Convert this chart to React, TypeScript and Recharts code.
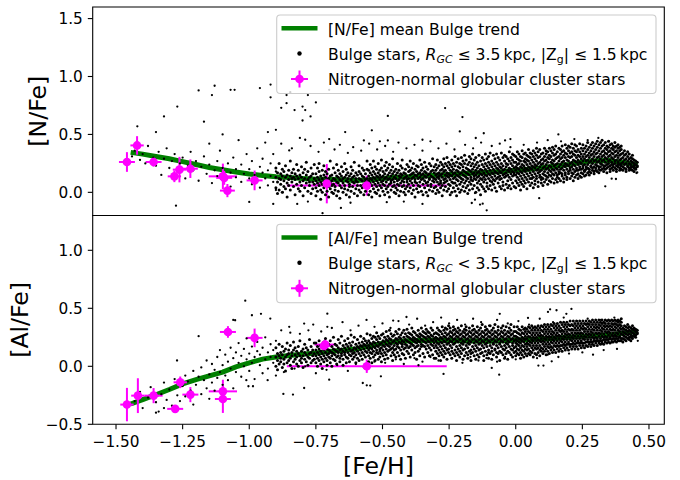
import React from 'react';
import { ComposedChart, Scatter, Line, XAxis, YAxis, ErrorBar, ReferenceArea } from 'recharts';

const FONT = '"DejaVu Sans", sans-serif';
const MAGENTA = '#ff00ff';
const GREEN = '#008000';

// ---------- axes ----------
const X_DOMAIN: [number, number] = [-1.5875, 0.5575];
const xTicks = [-1.5, -1.25, -1.0, -0.75, -0.5, -0.25, 0.0, 0.25, 0.5];
const nFeDomain: [number, number] = [-0.2, 1.6];
const nFeTicks = [0.0, 0.5, 1.0, 1.5];
const alFeDomain: [number, number] = [-0.5, 1.3];
const alFeTicks = [-0.5, 0.0, 0.5, 1.0];

// ---------- mean bulge trends [Fe/H, value] ----------
const nFeTrend: [number, number][] = [
  [-1.445, 0.345], [-1.4, 0.33], [-1.35, 0.31], [-1.3, 0.29], [-1.25, 0.265], [-1.2, 0.24], [-1.15, 0.215],
  [-1.1, 0.195], [-1.05, 0.175], [-1.0, 0.158], [-0.95, 0.145], [-0.9, 0.135], [-0.85, 0.128], [-0.8, 0.12],
  [-0.75, 0.113], [-0.7, 0.112], [-0.65, 0.108], [-0.6, 0.102], [-0.55, 0.108], [-0.5, 0.12], [-0.45, 0.13],
  [-0.4, 0.135], [-0.35, 0.14], [-0.3, 0.147], [-0.25, 0.153], [-0.2, 0.16], [-0.15, 0.167], [-0.1, 0.173],
  [-0.05, 0.18], [0.0, 0.19], [0.05, 0.2], [0.1, 0.212], [0.15, 0.228], [0.2, 0.24], [0.25, 0.262],
  [0.3, 0.273], [0.35, 0.275], [0.4, 0.258], [0.458, 0.24],
];
const alFeTrend: [number, number][] = [
  [-1.445, -0.325], [-1.4, -0.287], [-1.35, -0.245], [-1.3, -0.2], [-1.25, -0.152], [-1.2, -0.115], [-1.15, -0.082],
  [-1.1, -0.05], [-1.05, -0.005], [-1.0, 0.03], [-0.95, 0.062], [-0.9, 0.08], [-0.85, 0.093], [-0.8, 0.104],
  [-0.75, 0.114], [-0.7, 0.128], [-0.65, 0.138], [-0.6, 0.15], [-0.55, 0.172], [-0.5, 0.2], [-0.45, 0.214],
  [-0.4, 0.22], [-0.35, 0.223], [-0.3, 0.224], [-0.25, 0.222], [-0.2, 0.22], [-0.15, 0.218], [-0.1, 0.216],
  [-0.05, 0.22], [0.0, 0.226], [0.05, 0.231], [0.1, 0.236], [0.15, 0.241], [0.2, 0.25], [0.25, 0.258],
  [0.3, 0.265], [0.35, 0.27], [0.4, 0.285], [0.458, 0.302],
];

// ---------- globular cluster stars [Fe/H, value, xErr, yErr] ----------
const gcNFe: [number, number, number, number][] = [
  [-1.459, 0.262, 0.03, 0.085], [-1.421, 0.405, 0.025, 0.08], [-1.359, 0.262, 0.03, 0.04],
  [-1.281, 0.138, 0.025, 0.05], [-1.262, 0.196, 0.025, 0.11], [-1.221, 0.204, 0.028, 0.08],
  [-1.099, 0.138, 0.053, 0.11], [-1.094, 0.125, 0.03, 0.06], [-1.082, 0.015, 0.028, 0.057],
  [-0.98, 0.103, 0.03, 0.085], [-0.709, 0.075, 0.04, 0.17], [-0.559, 0.058, 0.3, 0.086],
];
const gcAlFe: [number, number, number, number][] = [
  [-1.459, -0.33, 0.025, 0.144], [-1.418, -0.253, 0.025, 0.15], [-1.359, -0.253, 0.034, 0.065],
  [-1.278, -0.367, 0.03, 0.025], [-1.259, -0.138, 0.025, 0.05], [-1.221, -0.244, 0.03, 0.065],
  [-1.099, -0.216, 0.053, 0.1], [-1.099, -0.282, 0.03, 0.12], [-1.08, 0.296, 0.03, 0.05],
  [-0.98, 0.245, 0.03, 0.08], [-0.715, 0.187, 0.04, 0.05], [-0.72, 0.175, 0.03, 0.04],
  [-0.559, 0.0, 0.3, 0.057],
];

// ---------- bulge stars, [N/Fe] panel: sparse stars [Fe/H, [N/Fe]] ----------
const nFeStarsPoor: [number, number][] = [
  [-1.44, 0.31], [-1.43, 0.36], [-1.41, 0.28], [-1.4, 0.33], [-1.39, 0.25], [-1.38, 0.4], [-1.36, 0.3], [-1.35, 0.23],
  [-1.34, 0.35], [-1.33, 0.15], [-1.32, 0.29], [-1.31, 0.38], [-1.3, 0.21], [-1.29, 0.27], [-1.28, 0.33], [-1.27, 0.18],
  [-1.26, 0.25], [-1.25, 0.3], [-1.24, 0.12], [-1.23, 0.23], [-1.22, 0.35], [-1.21, 0.19], [-1.2, 0.27], [-1.19, 0.1],
  [-1.18, 0.22], [-1.17, 0.31], [-1.16, 0.16], [-1.15, 0.24], [-1.15, 0.42], [-1.14, 0.08], [-1.13, 0.19], [-1.12, 0.27],
  [-1.12, 0.14], [-1.11, 0.36], [-1.1, 0.21], [-1.09, 0.11], [-1.08, 0.25], [-1.07, 0.17], [-1.07, 0.05], [-1.06, 0.3],
  [-1.05, 0.13], [-1.05, 0.2], [-1.04, 0.45], [-1.03, 0.09], [-1.03, 0.24], [-1.02, 0.16], [-1.01, 0.33], [-1.0, 0.12],
  [-1.0, 0.2], [-0.99, 0.07], [-0.99, 0.27], [-0.98, 0.15], [-0.97, 0.38], [-0.97, 0.1], [-0.96, 0.22], [-0.96, 0.04],
  [-0.95, 0.17], [-0.95, 0.29], [-0.94, 0.12], [-0.94, 0.43], [-0.93, 0.19], [-0.93, 0.06], [-0.92, 0.25], [-0.92, 0.14],
  [-0.91, 0.33], [-0.91, 0.09], [-0.9, 0.18], [-0.9, 0.02],
];
const nFeStarsOutliers: [number, number][] = [
  [-1.42, 0.57], [-1.35, 0.52], [-1.32, 0.655], [-1.27, 0.74], [-1.19, 0.88], [-1.17, 0.61], [-1.14, 0.84], [-1.13, 0.92],
  [-1.1, 0.5], [-1.07, 0.885], [-1.055, 0.885], [-0.96, 0.9], [-0.92, 0.93], [-0.92, 0.82], [-0.93, 0.52], [-0.9, 0.54],
  [-0.88, 0.73], [-0.86, 0.77], [-0.86, 0.84], [-0.846, 0.865], [-0.83, 0.71], [-0.8, 0.74], [-0.79, 0.71], [-0.78, 0.84],
  [-0.8, 0.62], [-0.77, 0.655], [-0.75, 0.776], [-0.7, 0.885], [-0.79, 0.454], [-0.85, 0.362], [-0.7, 0.46], [-0.64, 0.52],
  [-0.54, 0.535], [-0.48, 0.66], [-0.265, 0.727], [-0.2, 0.65], [-0.35, 0.454], [-0.21, 0.526], [-0.57, 0.448],
  [-0.51, 0.44], [-0.48, 0.448], [-0.15, 0.469], [-0.12, 0.51], [0.16, 0.5], [-0.04, 0.448], [-0.02, 0.46],
  [-1.275, -0.115], [-1.0, -0.083], [-0.725, -0.18], [-0.82, -0.1], [-0.78, -0.08], [-0.656, -0.135], [-0.62, -0.09],
  [-0.484, -0.085], [-0.42, -0.08], [-0.35, -0.1], [-0.874, 0.0], [-0.91, -0.1], [0.088, -0.05], [-0.109, -0.155],
  [-0.153, -0.063], [-0.134, -0.106], [-0.124, -0.098], [-0.153, -0.006], [-0.165, -0.092], [0.336, 0.052],
  [0.36, 0.118], [0.376, 0.115], [0.453, 0.167], [0.456, 0.172],
  [-0.88, 0.42], [-0.84, 0.38], [-0.81, 0.47], [-0.77, 0.4], [-0.74, 0.35], [-0.72, 0.43], [-0.68, 0.37], [-0.66, 0.41],
  [-0.63, 0.34], [-0.61, 0.39], [-0.58, 0.36], [-0.55, 0.42], [-0.52, 0.37], [-0.49, 0.4], [-0.46, 0.35], [-0.44, 0.43],
  [-0.41, 0.38], [-0.38, 0.41], [-0.35, 0.36], [-0.32, 0.44], [-0.29, 0.38], [-0.26, 0.42], [-0.23, 0.37], [-0.19, 0.41],
  [-0.16, 0.38], [-0.13, 0.43], [-0.09, 0.4], [-0.06, 0.42], [-0.02, 0.39], [0.03, 0.41], [0.08, 0.43], [0.12, 0.45],
  [0.17, 0.44], [0.22, 0.46], [0.27, 0.45], [0.31, 0.47], [0.35, 0.44],
];
// dense band: [Fe/H, [N/Fe] values in hundredths of dex]
const nFeBand: [number, number[]][] = [
  [-0.9, [4, 13, 21]], [-0.894, [9, 17, -1]], [-0.888, [12, 2, 25]], [-0.882, [7, 16, 11]], [-0.876, [14, 0, 20]],
  [-0.87, [10, 5, 18]], [-0.864, [13, 23, 3]], [-0.858, [8, 15, -4]], [-0.852, [11, 19, 6]], [-0.846, [2, 14, 27]],
  [-0.84, [9, 12, 17]], [-0.834, [5, 20, 13]], [-0.828, [11, -2, 16]], [-0.822, [7, 14, 24]], [-0.816, [12, 3, 19]],
  [-0.81, [9, 15, 1]], [-0.804, [6, 13, 22]], [-0.798, [10, 17, -3]], [-0.792, [4, 12, 20]], [-0.786, [8, 15, 26]],
  [-0.78, [11, 1, 18]], [-0.774, [6, 13, 9]], [-0.768, [14, -1, 21]], [-0.762, [9, 3, 16]], [-0.756, [12, 7, 24]],
  [-0.75, [4, 10, 16, -3]], [-0.744, [8, 13, 1, 21]], [-0.738, [11, 6, 18, 25]], [-0.732, [2, 9, 14, -6]],
  [-0.726, [7, 12, 19, 0]], [-0.72, [10, 4, 15, 23]], [-0.714, [6, 13, -2, 18]], [-0.708, [9, 1, 16, 11]],
  [-0.702, [12, 5, 20, -4]], [-0.696, [3, 8, 14, 27]], [-0.69, [10, 15, 0, 6]], [-0.684, [7, 12, 21, -1]],
  [-0.678, [5, 11, 17, 2]], [-0.672, [9, 14, -3, 24]], [-0.666, [1, 8, 13, 19]], [-0.66, [11, 6, 16, -5]],
  [-0.654, [4, 10, 22, 14]], [-0.648, [8, 0, 12, 18]], [-0.642, [6, 13, 3, 25]], [-0.636, [10, 15, -2, 20]],
  [-0.63, [2, 9, 12, 17]], [-0.624, [7, 14, 5, -4]], [-0.618, [11, 1, 16, 22]], [-0.612, [5, 9, 13, 19]],
  [-0.606, [8, -1, 14, 26]], [-0.6, [3, 10, 17, 12]], [-0.594, [9, 6, 15, -3]], [-0.588, [12, 2, 18, 23]],
  [-0.582, [6, 11, 0, 16]], [-0.576, [10, 4, 14, 21]], [-0.57, [7, 13, -2, 19]], [-0.564, [11, 1, 16, 9]],
  [-0.558, [5, 12, 20, 27]],
  [-0.552, [4, 10, 14, 19, -2]], [-0.546, [8, 12, 1, 17, 24]], [-0.54, [6, 11, 15, -4, 21]], [-0.534, [9, 3, 13, 18, 27]],
  [-0.528, [12, 7, 0, 16, 22]], [-0.522, [5, 10, 14, 20, -1]], [-0.516, [8, 13, 2, 17, 25]], [-0.51, [11, 6, 15, -3, 19]],
  [-0.504, [4, 9, 13, 21, 28]], [-0.498, [10, 14, 1, 18, 7]], [-0.492, [6, 12, 16, -2, 23]], [-0.486, [9, 3, 13, 19, 26]],
  [-0.48, [11, 5, 15, 0, 21]], [-0.474, [7, 12, 17, 24, -4]], [-0.468, [10, 2, 14, 19, 8]], [-0.462, [5, 11, 16, 22, 29]],
  [-0.456, [9, 13, 0, 18, 6]], [-0.45, [12, 4, 15, 20, -1]], [-0.444, [7, 10, 17, 25, 2]], [-0.438, [11, 14, 6, 19, -3]],
  [-0.432, [8, 13, 1, 16, 23]], [-0.426, [10, 5, 15, 21, 28]], [-0.42, [6, 12, 17, 0, 9]], [-0.414, [13, 3, 16, 20, -2]],
  [-0.408, [9, 11, 14, 24, 5]], [-0.402, [7, 12, 18, 1, 22]], [-0.396, [10, 15, 4, 19, 27]], [-0.39, [12, 8, 16, -1, 21]],
  [-0.384, [6, 13, 17, 2, 25]], [-0.378, [11, 9, 15, 20, -4]], [-0.372, [8, 14, 3, 18, 23]], [-0.366, [12, 6, 16, 22, 0]],
  [-0.36, [9, 13, 17, 5, 28]], [-0.354, [11, 15, 1, 19, 24]], [-0.348, [7, 12, 16, -2, 21]], [-0.342, [10, 14, 4, 18, 26]],
  [-0.336, [13, 8, 17, 0, 22]], [-0.33, [9, 15, 6, 20, -3]], [-0.324, [12, 11, 16, 2, 25]], [-0.318, [7, 14, 18, 23, 5]],
  [-0.312, [10, 13, 1, 19, 29]], [-0.306, [12, 9, 17, 4, 22]],
  [-0.3, [5, 11, 15, 19, 24, -1]], [-0.294, [9, 13, 16, 21, 2, 28]], [-0.288, [7, 12, 17, 0, 23, 14]],
  [-0.282, [10, 15, 4, 19, 26, 8]], [-0.276, [13, 6, 16, 20, -3, 24]], [-0.27, [8, 11, 18, 2, 22, 29]],
  [-0.264, [12, 15, 5, 19, 25, 9]], [-0.258, [10, 14, 1, 17, 23, 30]], [-0.252, [7, 13, 16, 21, 3, 26]],
  [-0.246, [11, 15, 6, 19, -2, 24]], [-0.24, [9, 14, 18, 0, 22, 28]], [-0.234, [12, 16, 4, 20, 25, 8]],
  [-0.228, [8, 13, 17, 1, 23, 31]], [-0.222, [11, 15, 6, 19, 26, -3]], [-0.216, [10, 14, 18, 3, 22, 29]],
  [-0.21, [13, 16, 7, 21, 25, 0]], [-0.204, [9, 12, 17, 2, 24, 30]], [-0.198, [11, 15, 19, 5, 22, 27]],
  [-0.192, [14, 8, 18, 1, 25, 32]], [-0.186, [10, 13, 17, 21, 4, 28]], [-0.18, [12, 16, 6, 20, 24, -1]],
  [-0.174, [9, 15, 19, 2, 26, 31]], [-0.168, [13, 11, 18, 7, 23, 29]], [-0.162, [10, 16, 20, 3, 25, 33]],
  [-0.156, [14, 12, 17, 6, 22, 28]], [-0.15, [11, 15, 19, 0, 24, 30]], [-0.144, [13, 17, 8, 21, 26, 4]],
  [-0.138, [10, 14, 18, 2, 23, 32]], [-0.132, [12, 16, 20, 7, 27, -2]], [-0.126, [15, 11, 19, 5, 24, 30]],
  [-0.12, [13, 17, 9, 22, 28, 3]], [-0.114, [11, 15, 20, 1, 25, 33]], [-0.108, [14, 18, 8, 23, 29, 5]],
  [-0.102, [12, 16, 21, 3, 26, 31]], [-0.096, [15, 10, 19, 6, 24, 34]], [-0.09, [13, 17, 22, 2, 27, 9]],
  [-0.084, [11, 16, 20, 7, 25, 32]], [-0.078, [14, 18, 4, 23, 29, 10]], [-0.072, [12, 17, 21, 1, 26, 33]],
  [-0.066, [16, 13, 20, 8, 24, 30]], [-0.06, [14, 18, 22, 5, 28, 11]], [-0.054, [12, 17, 21, 3, 25, 34]],
  [-0.048, [15, 19, 9, 23, 30, 6]], [-0.042, [13, 16, 20, 2, 27, 32]], [-0.036, [17, 14, 22, 7, 25, 31]],
  [-0.03, [15, 19, 10, 24, 29, 4]], [-0.024, [13, 18, 21, 6, 27, 35]], [-0.018, [16, 20, 11, 25, 30, 3]],
  [-0.012, [14, 18, 23, 8, 28, 33]], [-0.006, [17, 15, 21, 5, 26, 32]],
  [0.0, [10, 15, 19, 22, 26, 31, 4]], [0.006, [13, 17, 21, 24, 8, 29, 35]], [0.012, [11, 16, 20, 25, 28, 6, 33]],
  [0.018, [14, 18, 22, 9, 27, 31, 2]], [0.024, [12, 17, 21, 24, 30, 7, 36]], [0.03, [15, 19, 23, 10, 27, 33, 5]],
  [0.036, [13, 18, 21, 26, 29, 8, 34]], [0.042, [16, 20, 24, 11, 28, 32, 3]], [0.048, [14, 19, 22, 27, 9, 31, 37]],
  [0.054, [12, 17, 21, 25, 30, 6, 34]], [0.06, [15, 20, 23, 12, 28, 33, 8]], [0.066, [13, 18, 22, 26, 31, 4, 36]],
  [0.072, [16, 21, 24, 10, 29, 34, 7]], [0.078, [14, 19, 23, 27, 12, 32, 38]], [0.084, [17, 20, 25, 9, 30, 35, 5]],
  [0.09, [15, 18, 22, 26, 13, 31, 37]], [0.096, [13, 19, 24, 28, 8, 33, 11]], [0.102, [16, 21, 25, 12, 29, 34, 6]],
  [0.108, [18, 22, 15, 27, 31, 9, 38]], [0.114, [14, 20, 24, 28, 11, 33, 36]], [0.12, [17, 21, 26, 13, 30, 35, 7]],
  [0.126, [15, 19, 23, 29, 10, 32, 38]], [0.132, [18, 22, 26, 14, 31, 36, 9]], [0.138, [16, 20, 25, 28, 12, 34, 39]],
  [0.144, [19, 23, 27, 15, 32, 37, 8]], [0.15, [17, 21, 24, 29, 11, 33, 40]], [0.156, [15, 20, 25, 30, 13, 35, 9]],
  [0.162, [18, 22, 27, 16, 31, 38, 12]], [0.168, [20, 24, 17, 29, 33, 10, 37]], [0.174, [16, 21, 26, 30, 14, 35, 40]],
  [0.18, [19, 23, 27, 12, 32, 36, 9]], [0.186, [17, 22, 25, 30, 15, 34, 41]], [0.192, [20, 24, 28, 13, 33, 38, 11]],
  [0.198, [18, 23, 27, 31, 16, 36, 40]], [0.204, [21, 25, 19, 30, 34, 12, 39]], [0.21, [17, 22, 26, 31, 14, 35, 42]],
  [0.216, [20, 24, 28, 16, 33, 38, 10]], [0.222, [18, 23, 27, 32, 13, 36, 41]], [0.228, [21, 26, 19, 30, 35, 15, 40]],
  [0.234, [19, 24, 28, 32, 16, 37, 12]], [0.24, [22, 26, 20, 31, 35, 14, 42]], [0.246, [20, 25, 29, 17, 33, 38, 13]],
  [0.252, [23, 27, 21, 31, 36, 16, 41]], [0.258, [19, 24, 29, 33, 18, 38, 14]], [0.264, [22, 27, 31, 20, 35, 40, 15]],
  [0.27, [24, 28, 21, 32, 37, 17, 43]], [0.276, [20, 26, 30, 34, 18, 39, 15]], [0.282, [23, 27, 32, 22, 36, 41, 17]],
  [0.288, [25, 29, 21, 33, 38, 19, 43]], [0.294, [22, 27, 31, 35, 18, 40, 16]], [0.3, [24, 28, 33, 21, 37, 42, 19]],
  [0.306, [26, 30, 23, 34, 39, 18, 44]], [0.312, [22, 27, 31, 36, 20, 41, 17]], [0.318, [25, 29, 33, 22, 38, 43, 19]],
  [0.324, [27, 31, 24, 35, 40, 20, 45]], [0.33, [23, 28, 32, 36, 21, 41, 18]], [0.336, [26, 30, 34, 23, 38, 43, 20]],
  [0.342, [24, 29, 33, 37, 21, 40, 17]], [0.348, [27, 31, 25, 35, 39, 22, 44]], [0.354, [23, 28, 32, 36, 20, 41, 18]],
  [0.36, [26, 30, 34, 24, 38, 42, 21]], [0.366, [24, 29, 33, 22, 37, 40, 19]], [0.372, [27, 31, 25, 35, 39, 21, 43]],
  [0.378, [23, 28, 32, 36, 20, 40, 18]], [0.384, [26, 30, 24, 34, 38, 22, 41]], [0.39, [24, 28, 32, 21, 36, 39, 19]],
  [0.396, [25, 29, 23, 33, 37, 20, 40]],
  [0.402, [22, 26, 30, 34, 19]], [0.408, [24, 28, 21, 32, 36]], [0.414, [20, 25, 29, 33, 18]], [0.42, [23, 27, 22, 31, 35]],
  [0.426, [21, 25, 29, 19, 33]], [0.432, [24, 27, 22, 30, 20]], [0.438, [22, 26, 29, 19, 32]], [0.444, [23, 25, 21, 28, 18]],
  [0.45, [21, 24, 27, 20]], [0.456, [23, 26, 22]],
];

// ---------- bulge stars, [Al/Fe] panel ----------
const alFeStarsPoor: [number, number][] = [
  [-1.43, -0.3], [-1.41, -0.22], [-1.4, -0.36], [-1.38, -0.27], [-1.37, -0.18], [-1.35, -0.31], [-1.34, -0.39],
  [-1.33, -0.24], [-1.32, -0.14], [-1.31, -0.29], [-1.3, -0.2], [-1.29, -0.34], [-1.28, -0.11], [-1.27, -0.25],
  [-1.26, -0.3], [-1.25, -0.17], [-1.24, -0.08], [-1.24, -0.26], [-1.23, -0.13], [-1.22, -0.21], [-1.21, -0.04],
  [-1.21, -0.33], [-1.2, -0.16], [-1.19, -0.09], [-1.19, 0.26], [-1.18, -0.24], [-1.18, -0.01], [-1.17, -0.12],
  [-1.16, -0.19], [-1.16, 0.05], [-1.15, -0.07], [-1.15, -0.28], [-1.14, -0.14], [-1.14, 0.02], [-1.13, -0.03],
  [-1.13, -0.21], [-1.12, 0.08], [-1.12, -0.1], [-1.11, -0.05], [-1.11, 0.14], [-1.1, -0.16], [-1.1, 0.01],
  [-1.09, -0.08], [-1.09, 0.1], [-1.08, 0.04], [-1.08, -0.12], [-1.07, 0.16], [-1.07, -0.02], [-1.06, 0.07],
  [-1.06, -0.19], [-1.05, 0.12], [-1.05, -0.05], [-1.04, 0.03], [-1.04, 0.2], [-1.03, 0.09], [-1.03, -0.09],
  [-1.02, 0.15], [-1.02, 0.0], [-1.01, 0.06], [-1.01, 0.24], [-1.0, 0.11], [-1.0, -0.04], [-0.99, 0.17], [-0.99, 0.03],
  [-0.98, 0.08], [-0.98, -0.11], [-0.97, 0.13], [-0.97, 0.21], [-0.96, 0.01], [-0.96, 0.1], [-0.95, 0.16],
  [-0.95, -0.06], [-0.94, 0.06], [-0.94, 0.25], [-0.93, 0.12], [-0.93, -0.02], [-0.92, 0.19], [-0.92, 0.08],
  [-0.91, 0.03], [-0.91, 0.14], [-0.9, 0.22], [-0.9, -0.08], [-1.35, -0.4], [-1.32, -0.36],
];
const alFeStarsOutliers: [number, number][] = [
  [-1.015, 0.566], [-0.99, 0.44], [-0.956, 0.452], [-0.921, 0.411], [-1.053, 0.397], [-0.794, 0.368], [-0.707, 0.454],
  [-0.778, 0.31], [-0.707, 0.34], [-0.41, 0.425], [-0.46, 0.394], [-0.836, -0.244], [-0.794, -0.187], [-0.7, -0.115],
  [-0.546, -0.166], [-0.506, -0.086], [-1.003, -0.172], [-0.986, -0.172], [-1.011, -0.12], [-0.931, -0.12],
  [-0.06, 0.452], [0.121, 0.469], [0.153, 0.483], [0.19, 0.452], [0.209, 0.495], [0.046, 0.417], [-0.062, -0.072],
  [-0.09, -0.014], [0.085, 0.006], [0.104, 0.006], [0.135, 0.043], [0.458, 0.22], [-0.574, -0.144], [-0.559, -0.164],
  [-0.365, 0.009], [-0.271, -0.066], [0.129, 0.491], [-1.271, 0.05], [-1.06, 0.4], [-0.846, 0.29], [-0.872, -0.238],
  [-0.88, 0.31], [-0.85, 0.34], [-0.81, 0.28], [-0.76, 0.36], [-0.73, 0.3], [-0.69, 0.33], [-0.65, 0.38], [-0.62, 0.31],
  [-0.59, 0.35], [-0.56, 0.4], [-0.53, 0.34], [-0.5, 0.37], [-0.47, 0.33], [-0.44, 0.39], [-0.4, 0.36], [-0.37, 0.41],
  [-0.34, 0.35], [-0.31, 0.38], [-0.28, 0.42], [-0.25, 0.37], [-0.22, 0.4], [-0.19, 0.36], [-0.16, 0.41], [-0.13, 0.38],
  [-0.1, 0.35], [-0.07, 0.4], [-0.03, 0.37], [0.01, 0.39], [0.05, 0.36], [0.09, 0.41], [0.14, 0.38], [0.18, 0.42],
  [0.23, 0.39], [0.27, 0.41], [0.32, 0.4], [0.37, 0.42],
  [-0.87, -0.05], [-0.83, -0.02], [-0.79, 0.0], [-0.75, -0.06], [-0.71, -0.03], [-0.67, 0.01], [-0.63, -0.04],
  [-0.6, 0.02], [-0.57, -0.01], [-0.53, 0.04], [-0.49, 0.03], [-0.45, 0.06], [-0.42, 0.02], [-0.38, 0.07], [-0.35, 0.04],
  [-0.32, 0.08], [-0.29, 0.05], [-0.24, 0.07], [-0.2, 0.03], [-0.17, 0.08], [-0.14, 0.05], [-0.11, 0.07], [-0.07, 0.04],
  [-0.04, 0.08], [0.0, 0.06], [0.04, 0.09], [0.08, 0.07], [0.12, 0.1], [0.16, 0.08], [0.2, 0.11], [0.25, 0.12],
  [0.29, 0.1], [0.33, 0.14], [0.38, 0.15],
];
// dense band: [Fe/H, [Al/Fe] values in hundredths of dex]
const alFeBand: [number, number[]][] = [
  [-0.9, [0, 8, 16]], [-0.894, [5, 11, -3]], [-0.888, [9, 2, 19]], [-0.882, [4, 12, 7]], [-0.876, [10, -1, 17]],
  [-0.87, [6, 13, 2]], [-0.864, [8, 15, -4]], [-0.858, [3, 10, 20]], [-0.852, [11, 5, 14]], [-0.846, [7, 1, 18]],
  [-0.84, [12, 9, -2]], [-0.834, [4, 14, 21]], [-0.828, [10, 6, 16]], [-0.822, [8, 2, 13]], [-0.816, [11, 17, 0]],
  [-0.81, [5, 9, 22]], [-0.804, [13, 7, 3]], [-0.798, [9, 15, -1]], [-0.792, [6, 12, 19]], [-0.786, [10, 4, 16]],
  [-0.78, [14, 8, 1]], [-0.774, [7, 11, 23]], [-0.768, [12, 3, 17]], [-0.762, [9, 14, 5]], [-0.756, [11, 6, 20]],
  [-0.75, [3, 9, 14, 20]], [-0.744, [7, 12, 0, 17]], [-0.738, [10, 5, 15, 22]], [-0.732, [13, 8, 2, 18]],
  [-0.726, [6, 11, 16, -2]], [-0.72, [9, 14, 4, 21]], [-0.714, [12, 7, 17, 24]], [-0.708, [5, 10, 15, 1]],
  [-0.702, [11, 14, 8, 19]], [-0.696, [7, 13, 3, 22]], [-0.69, [12, 9, 17, 0]], [-0.684, [6, 11, 15, 25]],
  [-0.678, [10, 14, 5, 19]], [-0.672, [13, 8, 18, 2]], [-0.666, [9, 12, 16, 23]], [-0.66, [7, 14, 4, 20]],
  [-0.654, [11, 15, 9, 26]], [-0.648, [13, 6, 18, 1]], [-0.642, [10, 16, 12, 22]], [-0.636, [8, 14, 3, 19]],
  [-0.63, [12, 17, 7, 24]], [-0.624, [15, 10, 20, 4]], [-0.618, [9, 13, 18, 27]], [-0.612, [14, 11, 6, 21]],
  [-0.606, [12, 16, 8, 25]], [-0.6, [10, 15, 19, 3]], [-0.594, [13, 17, 7, 23]], [-0.588, [11, 16, 20, 5]],
  [-0.582, [14, 9, 18, 26]], [-0.576, [12, 17, 21, 6]], [-0.57, [15, 10, 19, 24]], [-0.564, [13, 18, 8, 22]],
  [-0.558, [16, 12, 20, 28]],
  [-0.552, [9, 14, 18, 22, 4]], [-0.546, [12, 16, 20, 7, 27]], [-0.54, [15, 11, 19, 24, 3]], [-0.534, [13, 17, 21, 8, 26]],
  [-0.528, [10, 16, 20, 25, 5]], [-0.522, [14, 18, 12, 23, 29]], [-0.516, [17, 11, 21, 6, 26]], [-0.51, [13, 19, 15, 24, 8]],
  [-0.504, [16, 20, 11, 27, 4]], [-0.498, [14, 18, 22, 9, 28]], [-0.492, [17, 12, 21, 25, 6]], [-0.486, [15, 19, 23, 10, 30]],
  [-0.48, [18, 13, 22, 26, 7]], [-0.474, [14, 20, 17, 24, 31]], [-0.468, [19, 15, 23, 9, 28]], [-0.462, [16, 21, 12, 26, 5]],
  [-0.456, [18, 14, 22, 27, 10]], [-0.45, [15, 20, 24, 8, 30]], [-0.444, [19, 17, 23, 12, 28]], [-0.438, [16, 21, 25, 9, 32]],
  [-0.432, [20, 14, 24, 27, 6]], [-0.426, [17, 22, 19, 29, 11]], [-0.42, [15, 21, 25, 10, 31]], [-0.414, [19, 23, 16, 28, 7]],
  [-0.408, [18, 22, 13, 26, 32]], [-0.402, [21, 16, 25, 11, 29]], [-0.396, [17, 20, 24, 28, 8]], [-0.39, [19, 23, 14, 27, 33]],
  [-0.384, [22, 18, 25, 10, 30]], [-0.378, [16, 21, 24, 29, 12]], [-0.372, [20, 23, 17, 27, 6]], [-0.366, [18, 22, 26, 13, 31]],
  [-0.36, [21, 15, 25, 28, 9]], [-0.354, [19, 23, 17, 27, 33]], [-0.348, [22, 18, 26, 11, 30]], [-0.342, [17, 21, 25, 29, 8]],
  [-0.336, [20, 24, 15, 28, 32]], [-0.33, [18, 22, 26, 12, 30]], [-0.324, [21, 16, 25, 29, 9]], [-0.318, [19, 23, 27, 14, 33]],
  [-0.312, [22, 18, 26, 10, 31]], [-0.306, [20, 24, 16, 28, 7]],
  [-0.3, [13, 18, 22, 25, 29, 7]], [-0.294, [16, 20, 24, 11, 28, 33]], [-0.288, [14, 19, 23, 27, 9, 31]],
  [-0.282, [17, 21, 25, 12, 30, 5]], [-0.276, [15, 20, 24, 28, 10, 34]], [-0.27, [18, 22, 13, 26, 31, 8]],
  [-0.264, [16, 21, 25, 29, 11, 33]], [-0.258, [19, 23, 14, 27, 32, 6]], [-0.252, [15, 20, 24, 28, 12, 35]],
  [-0.246, [18, 22, 26, 10, 30, 33]], [-0.24, [16, 21, 25, 13, 29, 7]], [-0.234, [19, 23, 27, 11, 31, 34]],
  [-0.228, [14, 20, 24, 28, 9, 32]], [-0.222, [17, 22, 26, 12, 30, 5]], [-0.216, [15, 21, 25, 29, 10, 33]],
  [-0.21, [18, 23, 13, 27, 31, 8]], [-0.204, [16, 20, 24, 28, 11, 35]], [-0.198, [19, 22, 26, 14, 30, 6]],
  [-0.192, [15, 21, 25, 29, 9, 32]], [-0.186, [18, 23, 12, 27, 31, 34]], [-0.18, [16, 20, 24, 28, 10, 7]],
  [-0.174, [19, 22, 26, 13, 30, 33]], [-0.168, [14, 21, 25, 29, 11, 5]], [-0.162, [17, 23, 27, 12, 31, 35]],
  [-0.156, [15, 20, 24, 28, 9, 32]], [-0.15, [18, 22, 26, 13, 30, 6]], [-0.144, [16, 21, 25, 29, 10, 34]],
  [-0.138, [19, 23, 14, 27, 31, 8]], [-0.132, [15, 20, 24, 28, 11, 33]], [-0.126, [18, 22, 26, 12, 30, 36]],
  [-0.12, [16, 21, 25, 29, 9, 5]], [-0.114, [19, 23, 27, 13, 31, 34]], [-0.108, [17, 20, 24, 28, 10, 32]],
  [-0.102, [14, 22, 26, 12, 30, 7]], [-0.096, [18, 21, 25, 29, 11, 35]], [-0.09, [16, 23, 27, 13, 31, 6]],
  [-0.084, [19, 20, 24, 28, 10, 33]], [-0.078, [15, 22, 26, 14, 30, 36]], [-0.072, [18, 21, 25, 29, 12, 8]],
  [-0.066, [16, 23, 27, 11, 31, 34]], [-0.06, [19, 20, 24, 28, 13, 5]], [-0.054, [17, 22, 26, 12, 30, 33]],
  [-0.048, [15, 21, 25, 29, 10, 35]], [-0.042, [18, 23, 27, 14, 31, 7]], [-0.036, [16, 20, 24, 28, 11, 34]],
  [-0.03, [19, 22, 26, 13, 30, 6]], [-0.024, [17, 21, 25, 29, 12, 33]], [-0.018, [15, 23, 27, 10, 31, 36]],
  [-0.012, [18, 20, 24, 28, 14, 8]], [-0.006, [16, 22, 26, 12, 30, 34]],
  [0.0, [13, 17, 20, 23, 26, 30, 9]], [0.006, [15, 19, 22, 25, 11, 29, 34]], [0.012, [14, 18, 21, 24, 28, 10, 32]],
  [0.018, [16, 20, 23, 12, 27, 31, 7]], [0.024, [14, 18, 22, 25, 29, 10, 34]], [0.03, [17, 21, 24, 13, 28, 32, 8]],
  [0.036, [15, 19, 23, 26, 11, 30, 33]], [0.042, [17, 20, 24, 14, 28, 32, 9]], [0.048, [15, 19, 22, 26, 30, 11, 34]],
  [0.054, [18, 21, 25, 13, 29, 33, 10]], [0.06, [16, 20, 23, 27, 12, 31, 35]], [0.066, [18, 22, 25, 14, 29, 33, 8]],
  [0.072, [16, 20, 24, 27, 11, 31, 34]], [0.078, [18, 22, 25, 15, 29, 33, 10]], [0.084, [16, 20, 23, 27, 12, 31, 35]],
  [0.09, [18, 22, 26, 14, 29, 33, 9]], [0.096, [16, 21, 24, 27, 13, 31, 35]], [0.102, [19, 22, 26, 15, 30, 34, 11]],
  [0.108, [17, 21, 24, 28, 13, 32, 36]], [0.114, [19, 23, 26, 15, 30, 34, 10]], [0.12, [17, 21, 25, 28, 13, 32, 36]],
  [0.126, [19, 23, 26, 16, 30, 34, 11]], [0.132, [17, 21, 25, 28, 14, 32, 36]], [0.138, [20, 23, 27, 16, 30, 35, 12]],
  [0.144, [18, 22, 25, 29, 14, 33, 37]], [0.15, [20, 24, 27, 17, 31, 35, 12]], [0.156, [18, 22, 26, 29, 15, 33, 37]],
  [0.162, [20, 24, 27, 17, 31, 35, 13]], [0.168, [18, 22, 26, 30, 15, 33, 38]], [0.174, [21, 24, 28, 18, 31, 36, 13]],
  [0.18, [19, 23, 26, 30, 16, 34, 38]], [0.186, [21, 25, 28, 18, 32, 36, 14]], [0.192, [19, 23, 27, 30, 16, 34, 38]],
  [0.198, [21, 25, 28, 19, 32, 36, 14]], [0.204, [19, 23, 27, 31, 17, 35, 39]], [0.21, [22, 25, 29, 19, 32, 36, 15]],
  [0.216, [20, 24, 27, 31, 17, 35, 39]], [0.222, [22, 26, 29, 19, 33, 37, 15]], [0.228, [20, 24, 28, 31, 17, 35, 39]],
  [0.234, [22, 26, 29, 20, 33, 37, 15]], [0.24, [20, 24, 28, 31, 18, 35, 39]], [0.246, [22, 26, 29, 20, 33, 37, 16]],
  [0.252, [20, 24, 28, 32, 18, 35, 39]], [0.258, [23, 26, 30, 20, 33, 37, 16]], [0.264, [21, 25, 28, 32, 18, 36, 39]],
  [0.27, [23, 27, 30, 21, 34, 37, 17]], [0.276, [21, 25, 28, 32, 19, 36, 39]], [0.282, [23, 27, 30, 21, 34, 38, 17]],
  [0.288, [21, 25, 29, 32, 19, 36, 40]], [0.294, [24, 27, 31, 22, 34, 38, 18]], [0.3, [22, 25, 29, 33, 20, 36, 40]],
  [0.306, [24, 28, 31, 22, 34, 38, 18]], [0.312, [22, 26, 29, 33, 20, 36, 40]], [0.318, [24, 28, 31, 22, 35, 38, 19]],
  [0.324, [22, 26, 30, 33, 20, 37, 40]], [0.33, [25, 28, 32, 23, 35, 38, 19]], [0.336, [23, 26, 30, 34, 21, 37, 40]],
  [0.342, [25, 29, 32, 23, 35, 39, 20]], [0.348, [23, 27, 30, 34, 21, 37, 40]], [0.354, [25, 29, 32, 24, 35, 39, 20]],
  [0.36, [23, 27, 31, 34, 21, 37, 40]], [0.366, [26, 29, 32, 24, 36, 39, 21]], [0.372, [24, 27, 31, 34, 22, 37, 40]],
  [0.378, [26, 29, 33, 24, 36, 39, 21]], [0.384, [24, 28, 31, 35, 22, 38, 40]], [0.39, [26, 30, 33, 25, 36, 39, 22]],
  [0.396, [24, 28, 32, 35, 22, 38, 41]],
  [0.402, [24, 27, 30, 33, 21]], [0.408, [26, 29, 23, 32, 35]], [0.414, [25, 28, 31, 22, 34]], [0.42, [27, 30, 24, 33, 36]],
  [0.426, [25, 28, 31, 23, 34]], [0.432, [27, 30, 25, 33, 22]], [0.438, [26, 29, 32, 24, 35]], [0.444, [28, 31, 26, 33]],
  [0.45, [27, 30, 25, 32]], [0.456, [28, 31, 29]],
];

// ---------- helpers ----------
const toPts = (a: [number, number][]) => a.map(([x, y]) => ({ x, y }));
const bandPts = (a: [number, number[]][]) => a.flatMap(([x, ys]) => ys.map((v) => ({ x, y: v / 100 })));
const toGc = (a: [number, number, number, number][]) => a.map(([x, y, xErr, yErr]) => ({ x, y, xErr, yErr }));
const fmt = (v: number, d: number) => (v < 0 ? '\u2212' : '') + Math.abs(v).toFixed(d);

const nFeSparse = [...toPts(nFeStarsPoor), ...toPts(nFeStarsOutliers)];
const nFeDense = bandPts(nFeBand);
const alFeSparse = [...toPts(alFeStarsPoor), ...toPts(alFeStarsOutliers)];
const alFeDense = bandPts(alFeBand);

const SparseDot = (p: any) => <circle cx={p.cx} cy={p.cy} r={1.15} fill="#000" />;
const DenseDot = (p: any) => <circle cx={p.cx} cy={p.cy} r={1.5} fill="#000" />;
const GcDot = (p: any) => <circle cx={p.cx} cy={p.cy} r={4.3} fill={MAGENTA} />;

const PLOT_LEFT = 92.7;
const PLOT_RIGHT = 664.3;
const Y_AXIS_W = 60;
const TICK_FONT = 15.3;
const LABEL_FONT = 23.6;

type Pt = { x: number; y: number };
type PanelProps = {
  sparse: Pt[];
  dense: Pt[];
  trend: [number, number][];
  gc: [number, number, number, number][];
  yDomain: [number, number];
  yTicks: number[];
  yLabel: string;
  yLabelX: number;
  plotTop: number;
  plotBottom: number;
  height: number;
  showX: boolean;
};

function Panel(props: PanelProps) {
  const { sparse, dense, trend, gc, yDomain, yTicks, yLabel, yLabelX, plotTop, plotBottom, height, showX } = props;
  const xAxisH = showX ? height - plotBottom : 0;
  const yMid = (plotTop + plotBottom) / 2;
  return (
    <ComposedChart
      width={680}
      height={height}
      margin={{ top: plotTop, right: 680 - PLOT_RIGHT, left: PLOT_LEFT - Y_AXIS_W, bottom: showX ? 0 : height - plotBottom }}
    >
      <XAxis
        type="number"
        dataKey="x"
        domain={X_DOMAIN}
        ticks={xTicks}
        allowDataOverflow
        hide={!showX}
        height={xAxisH}
        axisLine={false}
        tickLine={{ stroke: '#000', strokeWidth: 1.1 }}
        tickSize={4.9}
        tickMargin={7}
        tick={{ fill: '#000', fontSize: TICK_FONT, fontFamily: FONT }}
        tickFormatter={(v: number) => fmt(v, 2)}
        interval={0}
        label={
          showX
            ? {
                content: () => (
                  <text x={(PLOT_LEFT + PLOT_RIGHT) / 2} y={466} textAnchor="middle" dominantBaseline="central"
                    fontSize={LABEL_FONT} fontFamily={FONT} fill="#000">[Fe/H]</text>
                ),
              }
            : undefined
        }
      />
      <YAxis
        type="number"
        dataKey="y"
        domain={yDomain}
        ticks={yTicks}
        allowDataOverflow
        width={Y_AXIS_W}
        axisLine={false}
        tickLine={{ stroke: '#000', strokeWidth: 1.1 }}
        tickSize={4.9}
        tickMargin={5}
        tick={{ fill: '#000', fontSize: TICK_FONT, fontFamily: FONT }}
        tickFormatter={(v: number) => fmt(v, 1)}
        interval={0}
        label={{
          content: () => (
            <text x={yLabelX} y={yMid} textAnchor="middle" dominantBaseline="central" fontSize={LABEL_FONT}
              fontFamily={FONT} fill="#000" transform={`rotate(-90 ${yLabelX} ${yMid})`}>{yLabel}</text>
          ),
        }}
      />
      <Scatter data={sparse} shape={SparseDot} isAnimationActive={false} />
      <Scatter data={dense} shape={DenseDot} isAnimationActive={false} />
      <Line data={toPts(trend)} dataKey="y" type="linear" stroke={GREEN} strokeWidth={5} dot={false}
        activeDot={false} isAnimationActive={false} />
      <Scatter data={toGc(gc)} shape={GcDot} fill={MAGENTA} isAnimationActive={false}>
        <ErrorBar dataKey="xErr" direction="x" width={0} stroke={MAGENTA} strokeWidth={2} />
        <ErrorBar dataKey="yErr" direction="y" width={0} stroke={MAGENTA} strokeWidth={2} />
      </Scatter>
      <ReferenceArea x1={X_DOMAIN[0]} x2={X_DOMAIN[1]} y1={yDomain[0]} y2={yDomain[1]} fill="none"
        stroke="#000" strokeWidth={1.1} ifOverflow="visible" />
    </ComposedChart>
  );
}

function LegendBox({ dy, title, relation }: { dy: number; title: string; relation: string }) {
  const fs = 15.6;
  const sub = fs * 0.7;
  return (
    <g fontFamily={FONT} fontSize={fs} fill="#000">
      <rect x={276.7} y={15 + dy} width={379.3} height={78.5} rx={3.5} fill="#fff" fillOpacity={0.8}
        stroke="#cccccc" strokeWidth={1.1} />
      <line x1={281.5} x2={317.5} y1={28.3 + dy} y2={28.3 + dy} stroke={GREEN} strokeWidth={4.5} />
      <text x={328} y={35 + dy}>{title}</text>
      <circle cx={299.5} cy={53.5 + dy} r={2.2} fill="#000" />
      <text x={328} y={59.5 + dy}>
        {'Bulge stars, '}
        <tspan fontStyle="italic">R</tspan>
        <tspan fontStyle="italic" fontSize={sub} dy={3}>GC</tspan>
        <tspan dy={-3}>{` ${relation} 3.5\u2009kpc, |Z`}</tspan>
        <tspan fontSize={sub} dy={3}>g</tspan>
        <tspan dy={-3}>{'| \u2264 1.5\u2009kpc'}</tspan>
      </text>
      <line x1={291} x2={308} y1={79 + dy} y2={79 + dy} stroke={MAGENTA} strokeWidth={2} />
      <line x1={299.5} x2={299.5} y1={70.5 + dy} y2={87.5 + dy} stroke={MAGENTA} strokeWidth={2} />
      <circle cx={299.5} cy={79 + dy} r={4.3} fill={MAGENTA} />
      <text x={328} y={85 + dy}>Nitrogen-normal globular cluster stars</text>
    </g>
  );
}

export default function App() {
  return (
    <div style={{ position: 'absolute', left: 0, top: 0, width: 680, height: 480, background: '#fff', fontFamily: FONT }}>
      <div style={{ position: 'absolute', left: 0, top: 0 }}>
        <Panel sparse={nFeSparse} dense={nFeDense} trend={nFeTrend} gc={gcNFe} yDomain={nFeDomain} yTicks={nFeTicks}
          yLabel="[N/Fe]" yLabelX={37.5} plotTop={7} plotBottom={215.5} height={216} showX={false} />
      </div>
      <div style={{ position: 'absolute', left: 0, top: 0 }}>
        <Panel sparse={alFeSparse} dense={alFeDense} trend={alFeTrend} gc={gcAlFe} yDomain={alFeDomain}
          yTicks={alFeTicks} yLabel="[Al/Fe]" yLabelX={20} plotTop={215.5} plotBottom={424.3} height={480} showX={true} />
      </div>
      <svg width={680} height={480} style={{ position: 'absolute', left: 0, top: 0, pointerEvents: 'none' }}>
        <LegendBox dy={0} title="[N/Fe] mean Bulge trend" relation={'\u2264'} />
        <LegendBox dy={209.3} title="[Al/Fe] mean Bulge trend" relation="<" />
      </svg>
    </div>
  );
}
